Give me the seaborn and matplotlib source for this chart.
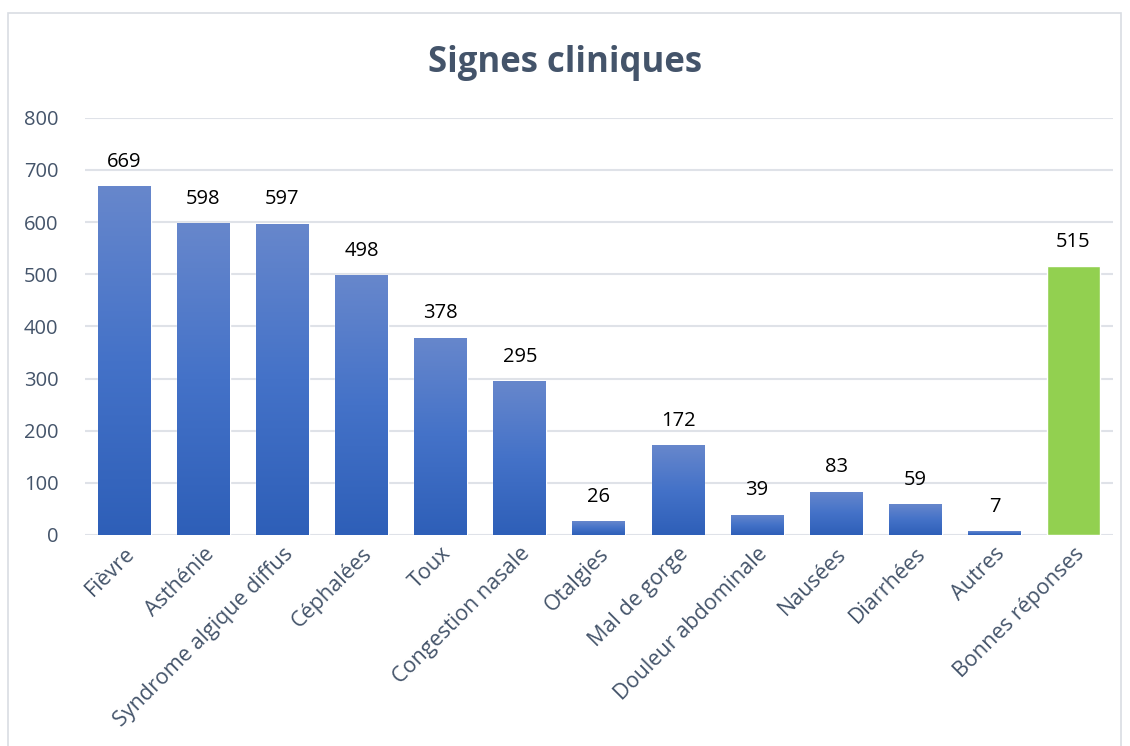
import numpy as np
import pandas as pd
import matplotlib
matplotlib.use("Agg")
import matplotlib.pyplot as plt
import seaborn as sns
from matplotlib.colors import LinearSegmentedColormap
from matplotlib.patches import Rectangle

categories = ["Fièvre", "Asthénie", "Syndrome algique diffus", "Céphalées", "Toux",
              "Congestion nasale", "Otalgies", "Mal de gorge", "Douleur abdominale",
              "Nausées", "Diarrhées", "Autres", "Bonnes réponses"]
values = [669, 598, 597, 498, 378, 295, 26, 172, 39, 83, 59, 7, 515]
groups = ["signe"] * 12 + ["bonnes"]

df = pd.DataFrame({"categorie": categories, "valeur": values, "groupe": groups})

sns.set_theme(style="white")
plt.rcParams["font.family"] = ["Open Sans", "DejaVu Sans"]

text_col = "#44546a"
fig = plt.figure(figsize=(11.3, 7.46), dpi=100)
ax = fig.add_axes([0.075, 0.283, 0.910, 0.559])

sns.barplot(data=df, x="categorie", y="valeur", hue="groupe",
            palette={"signe": "#4472c4", "bonnes": "#92d050"}, saturation=1,
            width=0.67, dodge=False, legend=False, ax=ax)

# gradient fill on the blue bars
grad = LinearSegmentedColormap.from_list("g", ["#2e5fb8", "#4472c8", "#6787cc"])
for patch, grp in zip(ax.patches, groups):
    if grp != "signe":
        continue
    x0, y0 = patch.get_x(), patch.get_y()
    w, h = patch.get_width(), patch.get_height()
    img = ax.imshow(np.linspace(0, 1, 256).reshape(-1, 1), cmap=grad, origin="lower",
                    extent=[x0, x0 + w, y0, y0 + h], aspect="auto", zorder=patch.get_zorder() + 0.1)
    img.set_clip_path(patch)

ax.set_xlim(-0.5, len(categories) - 0.5)
ax.set_ylim(0, 800)
ax.set_yticks(range(0, 801, 100))
ax.yaxis.grid(True, color="#dfe2e8", linewidth=1.5)
ax.set_axisbelow(True)
for s in ax.spines.values():
    s.set_visible(False)

for i, v in enumerate(values):
    ax.text(i, v + 28, str(v), ha="center", va="bottom", fontsize=14.5, color="black")

ax.set_xlabel("")
ax.set_ylabel("")
ax.tick_params(axis="both", length=0, labelcolor=text_col)
ax.tick_params(axis="y", pad=19, labelsize=14.5)
ax.tick_params(axis="x", pad=6, labelsize=15.5)
ax.set_xticks(range(len(categories)))
ax.set_xticklabels(categories, rotation=45, ha="right", rotation_mode="anchor")

fig.text(0.5, 0.915, "Signes cliniques", ha="center", va="center",
         fontsize=25, fontweight="bold", color=text_col)

fig.patches.append(Rectangle((0.007, -0.01), 0.985, 0.993, transform=fig.transFigure,
                             fill=False, edgecolor="#d9dde3", linewidth=1.2))

fig.savefig("out.png", dpi=100)
